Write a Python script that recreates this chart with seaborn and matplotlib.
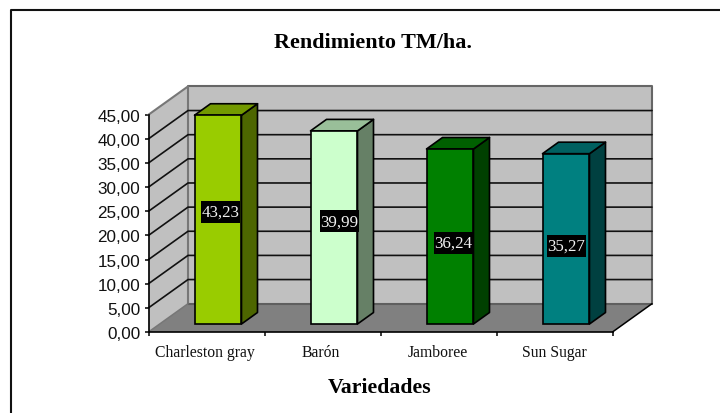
import matplotlib
matplotlib.use("Agg")
import matplotlib.pyplot as plt
from matplotlib.patches import Polygon
from matplotlib.transforms import ScaledTranslation
import seaborn as sns
import pandas as pd

variedades = ["Charleston gray", "Barón", "Jamboree", "Sun Sugar"]
rendimiento = [43.23, 39.99, 36.24, 35.27]
data_labels = ["43,23", "39,99", "36,24", "35,27"]
y_ticks = [0, 5, 10, 15, 20, 25, 30, 35, 40, 45]
y_tick_labels = ["0,00", "5,00", "10,00", "15,00", "20,00", "25,00", "30,00", "35,00", "40,00", "45,00"]
front_colors = ["#99cc00", "#ccffcc", "#008000", "#008080"]
top_colors = ["#739900", "#99bf99", "#006000", "#006060"]
side_colors = ["#4d6600", "#668066", "#004000", "#004040"]

W, H = 720, 414
DPI = 100
# front plane of the chart, pixels
X0, X1, Y0, Y45 = 148.5, 612.5, 333.0, 115.7
WALL_DX, WALL_DY = 39.5, 28.3
BAR_DX, BAR_DY = 11.5, 8.0
DEPTH_DX, DEPTH_DY = 16, 11.5
BOX_W, BOX_H = 39, 22

# the labels do not sit exactly on the bar centres in the original
label_shift_x = [2.5, 5, 3, 0]
label_shift_y = [8, 6, -6, -7]
cat_label_x = [205, 321, 438, 554]

sns.set_theme(style="white")
plt.rcParams["font.family"] = ["Liberation Sans", "DejaVu Sans"]

fig = plt.figure(figsize=(W / DPI, H / DPI), dpi=DPI, facecolor="white")
ax = fig.add_axes([X0 / W, 1 - Y0 / H, (X1 - X0) / W, (Y0 - Y45) / H])
ax.patch.set_visible(False)

df = pd.DataFrame({"variedad": variedades, "rendimiento": rendimiento})
sns.barplot(data=df, x="variedad", y="rendimiento", hue="variedad", palette=front_colors,
            legend=False, width=0.405, saturation=1, edgecolor="black", linewidth=1.2,
            dodge=False, ax=ax, zorder=5)
ax.set_xlim(-0.5, 3.5)
ax.set_ylim(0, 45)


def shift(dx, dy):
    return ax.transData + ScaledTranslation(dx / DPI, dy / DPI, fig.dpi_scale_trans)


def face(pts, color, dx=0, dy=0, ec="none", lw=0, z=1):
    # pts in data coords, then moved on screen to fake the 3d depth
    ax.add_patch(Polygon(pts, closed=True, fc=color, ec=ec, lw=lw, transform=shift(dx, dy),
                         clip_on=False, zorder=z, joinstyle="round"))


xl, xr = ax.get_xlim()
px_per_x = (X1 - X0) / (xr - xl)
px_per_y = (Y0 - Y45) / 45
wall_x = WALL_DX / px_per_x
wall_y = WALL_DY / px_per_y

# back wall, side wall, floor
face([(xl, 0), (xr, 0), (xr, 45), (xl, 45)], "#c0c0c0", WALL_DX, WALL_DY, z=1)
ax.add_line(plt.Line2D([xl, xr, xr], [45, 45, 0], color="#666666", lw=1.5,
                       transform=shift(WALL_DX, WALL_DY), clip_on=False, zorder=1.2))
face([(xl, 0), (xl + wall_x, wall_y), (xl + wall_x, 45 + wall_y), (xl, 45)], "#c0c0c0", z=1.1)
ax.add_line(plt.Line2D([xl, xl + wall_x, xl + wall_x], [45, 45 + wall_y, wall_y], color="#777777",
                       lw=1.5, clip_on=False, zorder=1.3))
face([(xl, 0), (xr, 0), (xr + wall_x, wall_y), (xl + wall_x, wall_y)], "#808080", z=1.4)
ax.add_line(plt.Line2D([xl + wall_x, xr + wall_x], [wall_y, wall_y], color="#5f5f5f", lw=1.5,
                       clip_on=False, zorder=1.5))
ax.add_line(plt.Line2D([xr, xr + wall_x], [0, wall_y], color="black", lw=1.1, clip_on=False, zorder=1.5))
ax.add_line(plt.Line2D([xl, xl + wall_x], [0, wall_y], color="#777777", lw=1.1, clip_on=False, zorder=1.5))

# gridlines run along the side wall and the back wall
for t in y_ticks[1:-1]:
    ax.add_line(plt.Line2D([xl, xl + wall_x, xr + wall_x], [t, t + wall_y, t + wall_y], color="#111111",
                           lw=1.2, clip_on=False, zorder=1.35))

depth_x = DEPTH_DX / px_per_x
depth_y = DEPTH_DY / px_per_y
box_x = BOX_W / 2 / px_per_x
box_y = BOX_H / 2 / px_per_y
offset = shift(BAR_DX, BAR_DY)
for i, (bar, top_c, side_c, lab) in enumerate(zip(ax.patches[:4], top_colors, side_colors, data_labels)):
    bar.set_transform(offset)
    bar.set_clip_on(False)
    x, w, h = bar.get_x(), bar.get_width(), bar.get_height()
    face([(x + w, 0), (x + w + depth_x, depth_y), (x + w + depth_x, h + depth_y), (x + w, h)], side_c,
         BAR_DX, BAR_DY, ec="black", lw=1.2, z=4)
    face([(x, h), (x + w, h), (x + w + depth_x, h + depth_y), (x + depth_x, h + depth_y)], top_c,
         BAR_DX, BAR_DY, ec="black", lw=1.2, z=4)
    cx, cy = x + w / 2, h / 2
    lab_dx, lab_dy = BAR_DX + label_shift_x[i], BAR_DY + label_shift_y[i]
    face([(cx - box_x, cy - box_y), (cx + box_x, cy - box_y), (cx + box_x, cy + box_y), (cx - box_x, cy + box_y)],
         "black", lab_dx, lab_dy, z=7)
    ax.text(cx, cy, lab, transform=shift(lab_dx, lab_dy), color="#f2f2f2", ha="center", va="center",
            fontsize=12.2, family="Liberation Serif", zorder=8)

ax.set_yticks(y_ticks)
ax.set_yticklabels(y_tick_labels, fontsize=12.3, color="#111111")
ax.set_xticks([-0.5, 0.5, 1.5, 2.5, 3.5])
ax.set_xticklabels([])
ax.tick_params(axis="both", length=3, width=1.1, color="black", direction="out", pad=3,
               bottom=True, left=True)
ax.set_xlabel("")
ax.set_ylabel("")
sns.despine(ax=ax, top=True, right=True)
for side in ["left", "bottom"]:
    ax.spines[side].set_color("black")
    ax.spines[side].set_linewidth(1.2)
    ax.spines[side].set_zorder(3)

# category labels sit a bit left of the bars, like in the original
for i, name in enumerate(variedades):
    ax.annotate(name, xy=(i, 0), xycoords=("data", "axes fraction"),
                xytext=(cat_label_x[i] - (X0 + (i + 0.5) * px_per_x), -24.3),
                textcoords="offset pixels", ha="center", va="baseline", fontsize=11.3,
                family="Liberation Serif", color="#111111")

fig.text(373 / W, 1 - 48.3 / H, "Rendimiento TM/ha.", ha="center", va="baseline", fontsize=15.9,
         fontweight="bold", family="Liberation Serif", color="black")
fig.text(379.5 / W, 1 - 392.7 / H, "Variedades", ha="center", va="baseline", fontsize=15.7,
         fontweight="bold", family="Liberation Serif", color="black")

# the frame only shows on the top and left in the original
fig.add_artist(plt.Line2D([11 / W, 11 / W, 1], [0, 1 - 11 / H, 1 - 11 / H], transform=fig.transFigure,
                          color="#111111", lw=1.5))

fig.savefig("out.png", dpi=DPI)
